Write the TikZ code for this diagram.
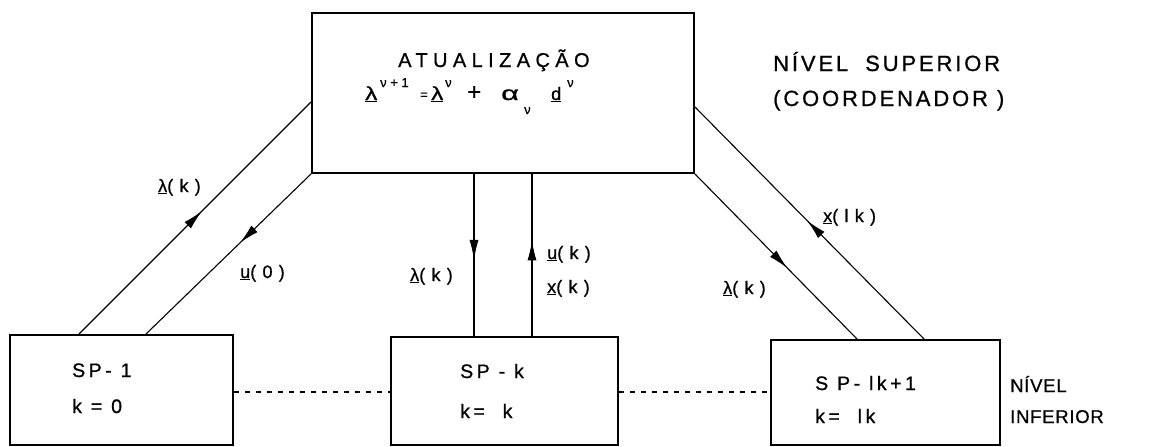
\documentclass[tikz,border=0pt]{standalone}
\usepackage{graphicx}
\usepackage{fontspec}
\setmainfont{Liberation Sans}
\newfontfamily\plainsf[FakeBold=0.8]{Liberation Sans}
\newfontfamily\boxsf[LetterSpace=18,FakeBold=0.8]{Liberation Sans}
\newfontfamily\titlesf[LetterSpace=27,FakeBold=0.8]{Liberation Sans}
\newfontfamily\sidesf[LetterSpace=13,FakeBold=0.8]{Liberation Sans}
\newfontfamily\lowsf[LetterSpace=4,FakeBold=0.8]{Liberation Sans}
\newfontfamily\labelsf[LetterSpace=35,FakeBold=0.8]{Liberation Sans}
\usetikzlibrary{arrows.meta,decorations.markings,calc}

\tikzset{
  box/.style={draw, line width=2pt, inner sep=0pt},
  link/.style={line width=1.1pt},
  dots/.style={line width=1.4pt, dash pattern=on 5pt off 6pt},
  txt/.style={anchor=base west, inner sep=0pt},
  boxtext/.style={txt, font=\boxsf\fontsize{19.5}{22}\selectfont},
  sidetext/.style={txt, font=\sidesf\fontsize{22}{25}\selectfont},
  lowtext/.style={txt, font=\lowsf\fontsize{18.5}{21}\selectfont},
  flowlabel/.style={txt, font=\labelsf\fontsize{18}{21}\selectfont},
  midarrow/.style={postaction={decorate},
    decoration={markings, mark=at position #1 with {\arrow{Latex[length=20pt,width=9pt]}}}},
}

\newcommand{\supv}[1]{\raisebox{13pt}{\fontsize{13}{14}\selectfont #1}}
\newcommand{\subv}[1]{\raisebox{-14pt}{\fontsize{13}{14}\selectfont #1}}
\newcommand{\wlam}{\underline{\scalebox{1.35}[1.05]{λ}}}

\begin{document}
\begin{tikzpicture}[x=1pt, y=-1pt]
\useasboundingbox (0,0) rectangle (1151,447);

% coordinator (upper level)
\node[box, minimum width=382pt, minimum height=160pt] (top) at (503,93) {};
\node[txt, font=\titlesf\fontsize{20}{23}\selectfont] (title) at (398,67) {ATUALIZAÇÃO};
\node[txt, font=\plainsf\fontsize{18}{20}\selectfont] (eq) at (365,100) {%
  \makebox[15pt][l]{\wlam}%
  \makebox[40pt][l]{\supv{ν\ +\ 1}}%
  \makebox[11pt][l]{\raisebox{1pt}{\fontsize{13}{13}\selectfont =}}%
  \makebox[14pt][l]{\wlam}%
  \makebox[22pt][l]{\supv{ν}}%
  \makebox[34pt][l]{\fontsize{24}{24}\selectfont +}%
  \makebox[23pt][l]{\scalebox{1.7}[1.1]{α}}%
  \makebox[27pt][l]{\subv{ν}}%
  \makebox[16pt][l]{\underline{d}}%
  \supv{ν}};

\node[sidetext] (sup1) at (773,71) {NÍVEL\hspace{8pt} SUPERIOR};
\node[sidetext] (sup2) at (773,106) {(COORDENADOR )};

% subproblems (lower level)
\node[box, minimum width=223pt, minimum height=110pt] (sp1) at (121.5,390) {};
\node[box, minimum width=227pt, minimum height=108pt] (spk) at (504.5,391) {};
\node[box, minimum width=229pt, minimum height=105pt] (spl) at (885.5,392.5) {};

\node[boxtext] (sp1a) at (72,377) {SP- 1};
\node[boxtext] (sp1b) at (72,413) {k = 0};
\node[boxtext] (spka) at (460,378) {SP - k};
\node[boxtext] (spkb) at (460,418) {k=\ \ k};
\node[boxtext] (spla) at (815,390) {S P- lk+1};
\node[boxtext] (splb) at (815,423) {k=\ \ lk};

\node[lowtext] (inf1) at (1010,392) {NÍVEL};
\node[lowtext] (inf2) at (1010,423) {INFERIOR};

% connection points on the boxes
\coordinate (tl) at ($(top.north west)+(0,90)$);
\coordinate (tr) at ($(top.north east)+(0,95)$);
\coordinate (m1) at ($(top.south west)+(163,0)$);
\coordinate (m2) at ($(top.south west)+(221,0)$);
\coordinate (b1o) at ($(sp1.north west)+(70,0)$);
\coordinate (b1i) at ($(sp1.north west)+(137,0)$);
\coordinate (b3i) at ($(spl.north west)+(87,0)$);
\coordinate (b3o) at ($(spl.north west)+(154,0)$);
\coordinate (d1) at ($(sp1.north east)+(0,58)$);
\coordinate (d2) at ($(spk.north east)+(0,56)$);

% exchanges between levels
\draw[link, midarrow=0.53] (b1o) -- (tl);
\draw[link, midarrow=0.43] (top.south west) -- (b1i);
\draw[link, midarrow=0.53] (m1) -- (m1 |- spk.north);
\draw[link, midarrow=0.59] (m2 |- spk.north) -- (m2);
\draw[link, midarrow=0.57] (top.south east) -- (b3i);
\draw[link, midarrow=0.51] (b3o) -- (tr);

% links between subproblems
\draw[dots] (d1) -- (d1 -| spk.west);
\draw[dots] (d2) -- (d2 -| spl.west);

% flow labels
\node[flowlabel] (l1) at (158,192) {\underline{λ}(k)};
\node[flowlabel] (l2) at (240,278) {\underline{u}(0)};
\node[flowlabel] (l3) at (410,281) {\underline{λ}(k)};
\node[flowlabel] (l4) at (547,259) {\underline{u}(k)};
\node[flowlabel] (l5) at (547,293) {\underline{x}(k)};
\node[flowlabel] (l6) at (823,222) {\underline{x}(lk)};
\node[flowlabel] (l7) at (723,294) {\underline{λ}(k)};
\end{tikzpicture}
\end{document}
